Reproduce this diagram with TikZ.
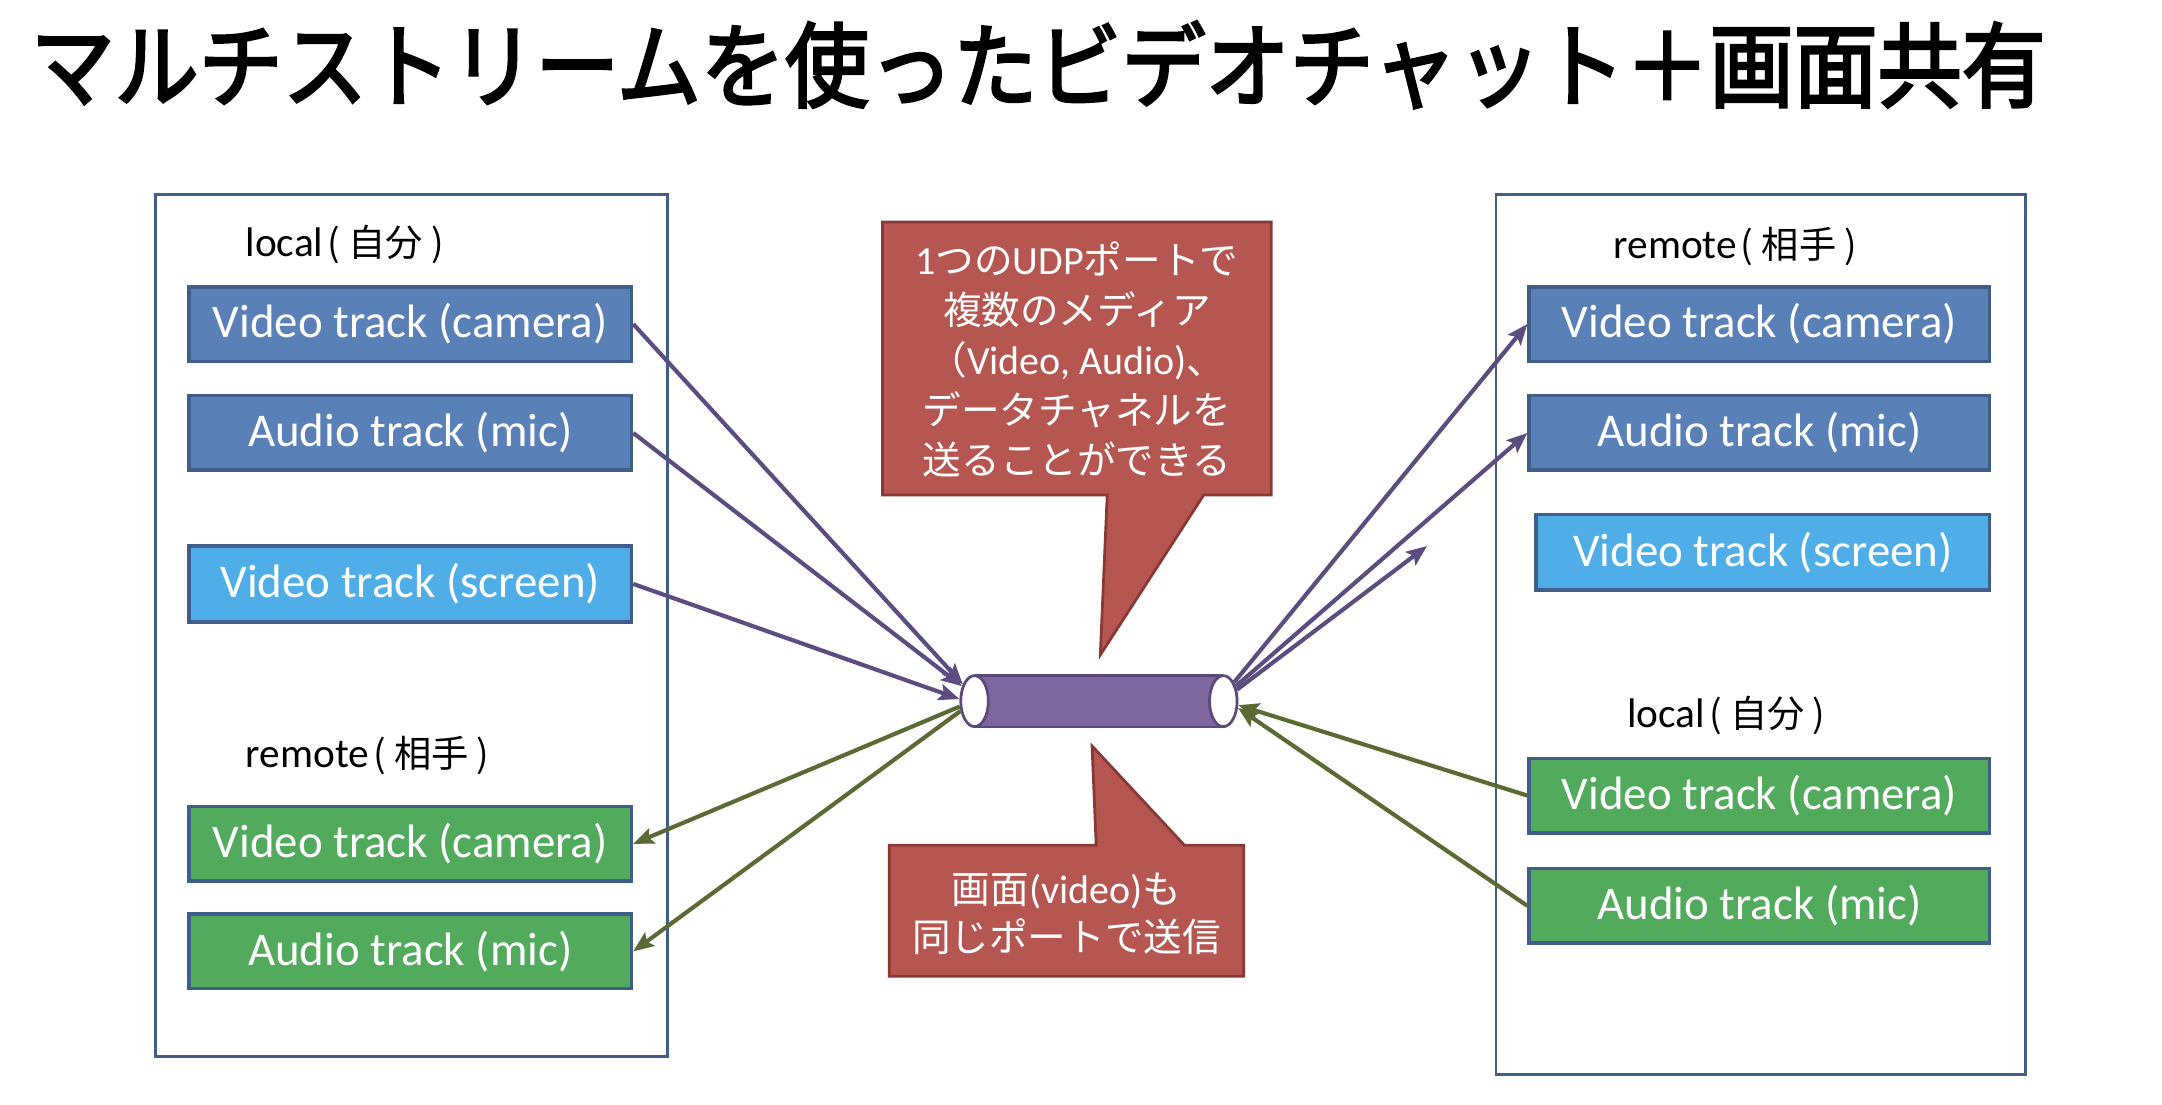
\documentclass[tikz,border=0pt]{standalone}
\usepackage{fontspec}
\setmainfont{Carlito}
\newfontfamily\cjk{Noto Sans CJK JP}
\newfontfamily\cjkt[FakeBold=3]{Noto Sans CJK JP}
\usetikzlibrary{arrows.meta,shapes.geometric}
\definecolor{bluebox}{RGB}{90,128,184}
\definecolor{skybox}{RGB}{79,174,232}
\definecolor{greenbox}{RGB}{82,171,92}
\definecolor{boxline}{RGB}{63,94,138}
\definecolor{calloutfill}{RGB}{182,86,80}
\definecolor{calloutline}{RGB}{138,56,54}
\definecolor{pipefillc}{RGB}{126,102,158}
\definecolor{pipelinec}{RGB}{92,72,122}
\definecolor{parrowc}{RGB}{93,76,128}
\definecolor{garrowc}{RGB}{90,106,52}
\newcommand{\jparen}[1]{{\cjk\fontsize{27}{32}\selectfont (\kern6pt#1\kern6pt)}}
\begin{document}
\begin{tikzpicture}[x=1pt,y=-1pt,
  pane/.style={draw=boxline, line width=2pt, rectangle, inner sep=0pt},
  trk/.style={draw=boxline, line width=2.5pt, rectangle, inner sep=0pt,
    minimum height=54pt, text=white, font=\fontsize{34}{40}\selectfont},
  bluetrk/.style={trk, fill=bluebox},
  skytrk/.style={trk, fill=skybox},
  greentrk/.style={trk, fill=greenbox},
  lbl/.style={anchor=west, inner sep=0pt, font=\fontsize{30}{34}\selectfont},
  callshape/.style={fill=calloutfill, draw=calloutline, line width=2pt, line join=miter},
  calltext/.style={text=white, align=center, inner sep=0pt},
  pipeend/.style={ellipse, draw=pipelinec, fill=white, line width=2pt,
    minimum width=20pt, minimum height=37pt, inner sep=0pt},
  parrow/.style={draw=parrowc, line width=3pt, -{Stealth[length=15pt,width=12pt,inset=3pt]}},
  garrow/.style={draw=garrowc, line width=3pt, -{Stealth[length=15pt,width=12pt,inset=3pt]}}
]
\useasboundingbox (0,0) rectangle (1568,801);
\fill[white] (0,0) rectangle (1568,801);

% title
\node[anchor=west, inner sep=0pt, font=\cjkt\fontsize{61}{70}\selectfont, yscale=1.1] (title) at (22,47)
  {マルチストリームを使ったビデオチャット＋画面共有};

% panes
\node[pane, minimum width=371pt, minimum height=625pt] (leftpane) at (298.5,453.5) {};
\node[pane, minimum width=384pt, minimum height=638pt] (rightpane) at (1277,460) {};

% left labels and tracks
\node[lbl] (llocal) at (178,177) {local\kern3pt\jparen{自分}};
\node[bluetrk, minimum width=321pt] (LC) at (297.5,235) {Video track (camera)};
\node[bluetrk, minimum width=321pt] (LA) at (297.5,314) {Audio track (mic)};
\node[skytrk, minimum width=321pt, minimum height=55pt] (LS) at (297.5,423.5) {Video track (screen)};
\node[lbl] (lremote) at (178,548) {remote\kern3pt\jparen{相手}};
\node[greentrk, minimum width=321pt] (LRC) at (297.5,612) {Video track (camera)};
\node[greentrk, minimum width=321pt] (LRA) at (297.5,690) {Audio track (mic)};

% right labels and tracks
\node[lbl] (rremote) at (1170,179) {remote\kern3pt\jparen{相手}};
\node[bluetrk, minimum width=334pt] (RC) at (1276,235) {Video track (camera)};
\node[bluetrk, minimum width=334pt] (RA) at (1276,314) {Audio track (mic)};
\node[skytrk, minimum width=329pt, minimum height=55pt] (RS) at (1278.5,400.5) {Video track (screen)};
\node[lbl] (rlocal) at (1180,519) {local\kern3pt\jparen{自分}};
\node[greentrk, minimum width=334pt] (RLC) at (1276,577) {Video track (camera)};
\node[greentrk, minimum width=334pt] (RLA) at (1276,657) {Audio track (mic)};

% callouts
\draw[callshape] (640,161) -- (922,161) -- (922,359) -- (873,359) -- (798,475) -- (803,359) -- (640,359) -- cycle;
\node[calltext, font=\fontsize{29}{36.2}\selectfont] (call1) at (781,260.5)
  {1{\cjk\fontsize{28}{36.2}\selectfont つの}UDP{\cjk\fontsize{28}{36.2}\selectfont ポートで}\\{\cjk\fontsize{28}{36.2}\selectfont 複数のメディア}\\{\cjk\fontsize{28}{36.2}\selectfont （}Video, Audio){\cjk\fontsize{28}{36.2}\selectfont 、}\\{\cjk\fontsize{28}{36.2}\selectfont データチャネルを}\\{\cjk\fontsize{28}{36.2}\selectfont 送ることができる}};
\draw[callshape] (645,613) -- (795,613) -- (792,541) -- (859,613) -- (902,613) -- (902,708) -- (645,708) -- cycle;
\node[calltext, font=\fontsize{29}{35}\selectfont] (call2) at (773.5,662.5)
  {{\cjk\fontsize{28}{35}\selectfont 画面}(video){\cjk\fontsize{28}{35}\selectfont も}\\{\cjk\fontsize{28}{35}\selectfont 同じポートで送信}};

% pipe
\node[rectangle, fill=pipefillc, minimum width=180pt, minimum height=37pt, inner sep=0pt] (pipe) at (797,508.5) {};
\draw[draw=pipelinec, line width=2pt] (pipe.north west) -- (pipe.north east);
\draw[draw=pipelinec, line width=2pt] (pipe.south west) -- (pipe.south east);
\node[pipeend] (pipeL) at (pipe.west) {};
\node[pipeend] (pipeR) at (pipe.east) {};

% arrows left
\draw[parrow] (LC.east) -- (pipeL.125);
\draw[parrow] (LA.east) -- (pipeL.130);
\draw[parrow] (LS.east) -- (pipeL.172);
\draw[garrow] (pipeL.200) -- (LRC.east);
\draw[garrow] (pipeL.215) -- (LRA.east);

% arrows right
\coordinate (scrEnd) at (1035,396);
\draw[parrow] (pipeR.60) -- (RC.west);
\draw[parrow] (pipeR.50) -- (RA.west);
\draw[parrow] (pipeR.40) -- (scrEnd);
\draw[garrow] (RLC.west) -- (pipeR.-15);
\draw[garrow] (RLA.west) -- (pipeR.-25);
\end{tikzpicture}
\end{document}
